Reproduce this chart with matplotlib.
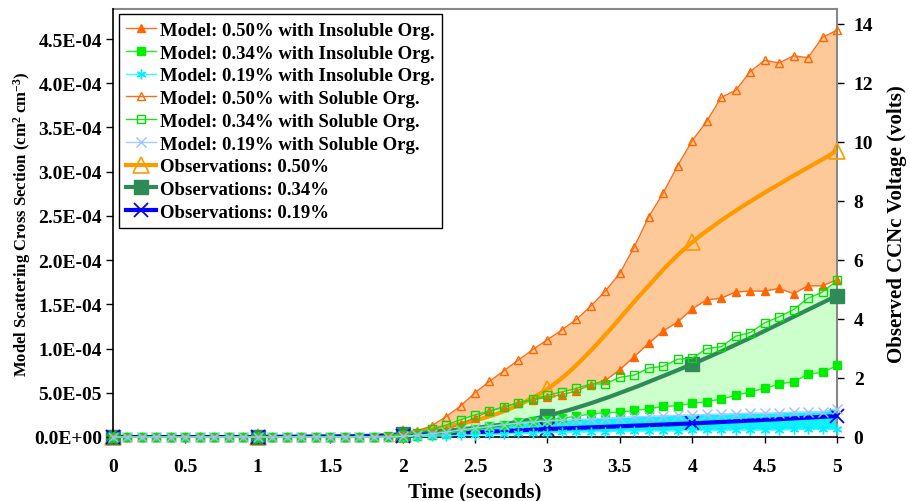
import numpy as np
import matplotlib
matplotlib.use("Agg")
import matplotlib.pyplot as plt
from matplotlib.path import Path
from matplotlib.patches import PathPatch
from matplotlib.lines import Line2D
from matplotlib.ticker import FuncFormatter, MultipleLocator

plt.rcParams["font.family"] = ["Liberation Serif", "DejaVu Serif"]
plt.rcParams["font.weight"] = "bold"
plt.rcParams["mathtext.fontset"] = "custom"
plt.rcParams["mathtext.rm"] = "Liberation Serif:bold"
plt.rcParams["mathtext.default"] = "rm"

# model time axis (seconds)
time = np.round(np.arange(0, 5.01, 0.1), 1)

# model scattering cross section, in units of 1e-5 cm2 cm-3
ins_050 = [0] * 20 + [0.05, 0.1, 0.25, 0.8, 1.5, 2.2, 2.9, 3.4, 3.9, 4.2,
                      4.5, 4.8, 5.2, 5.9, 6.4, 7.6, 9.1, 10.6, 12.0, 13.0,
                      14.5, 15.5, 15.7, 16.4, 16.5, 16.5, 16.8, 16.2, 17.1, 17.1,
                      17.8]
ins_034 = [0] * 20 + [0.05, 0.1, 0.2, 0.35, 0.65, 0.9, 1.2, 1.4, 1.65, 1.8,
                      1.95, 2.1, 2.35, 2.6, 2.75, 2.8, 3.0, 3.2, 3.45, 3.55,
                      3.8, 4.0, 4.3, 4.7, 5.1, 5.5, 6.0, 6.25, 7.1, 7.3,
                      8.1]
ins_019 = [0] * 20 + [0.02, 0.05, 0.1, 0.15, 0.2, 0.25, 0.3, 0.35, 0.4, 0.45,
                      0.5, 0.55, 0.55, 0.6, 0.6, 0.65, 0.65, 0.7, 0.7, 0.7,
                      0.75, 0.75, 0.75, 0.8, 0.8, 0.8, 0.8, 0.85, 0.85, 0.85,
                      0.85]
sol_050 = [0] * 18 + [0.05, 0.15, 0.35, 0.7, 1.25, 2.3, 3.5, 5.0, 6.3, 7.5,
                      8.7, 9.9, 11.0, 12.1, 13.3, 14.8, 16.5, 18.5, 21.5, 24.9,
                      27.6, 30.7, 33.5, 35.7, 38.4, 39.2, 41.3, 42.6, 42.3, 43.1,
                      42.9, 45.2, 46.0]
sol_034 = [0] * 19 + [0.1, 0.25, 0.5, 0.9, 1.35, 1.95, 2.5, 2.95, 3.4, 3.85,
                      4.25, 4.7, 5.1, 5.5, 6.0, 6.0, 6.75, 7.0, 7.8, 8.0,
                      8.8, 8.9, 10.0, 10.2, 11.4, 11.8, 12.9, 13.6, 14.4, 15.7,
                      16.4, 17.7]
sol_019 = [0] * 20 + [0.1, 0.2, 0.35, 0.55, 0.8, 1.0, 1.2, 1.4, 1.55, 1.7,
                      1.8, 1.9, 2.0, 2.05, 2.15, 2.2, 2.3, 2.35, 2.4, 2.45,
                      2.5, 2.55, 2.6, 2.65, 2.7, 2.7, 2.75, 2.8, 2.85, 2.85,
                      3.2]

# observed CCNc voltage (volts), once per second
obs_time = [0, 1, 2, 3, 4, 5]
obs_050 = [0, 0, 0.1, 1.63, 6.6, 9.7]
obs_034 = [0, 0, 0.1, 0.72, 2.47, 4.79]
obs_019 = [0, 0, 0.05, 0.27, 0.46, 0.71]

labels = [
    "Model: 0.50% with Insoluble Org.",
    "Model: 0.34% with Insoluble Org.",
    "Model: 0.19% with Insoluble Org.",
    "Model: 0.50% with Soluble Org.",
    "Model: 0.34% with Soluble Org.",
    "Model: 0.19% with Soluble Org.",
    "Observations: 0.50%",
    "Observations: 0.34%",
    "Observations: 0.19%",
]

SCALE = 1e-5
asterisk = (6, 2, 0)


def smooth_path(x, y):
    # excel style smoothed line: cubic bezier through the points
    pts = list(zip(x, y))
    n = len(pts)
    verts = [pts[0]]
    codes = [Path.MOVETO]
    for i in range(n - 1):
        p0 = pts[max(i - 1, 0)]
        p1 = pts[i]
        p2 = pts[i + 1]
        p3 = pts[min(i + 2, n - 1)]
        c1 = (p1[0] + (p2[0] - p0[0]) / 6, p1[1] + (p2[1] - p0[1]) / 6)
        c2 = (p2[0] - (p3[0] - p1[0]) / 6, p2[1] - (p3[1] - p1[1]) / 6)
        verts += [c1, c2, p2]
        codes += [Path.CURVE4] * 3
    return Path(verts, codes)


fig = plt.figure(figsize=(9.1, 5.02), dpi=100)
ax = fig.add_axes([113 / 910, 64 / 502, 724 / 910, 428 / 502])
ax2 = ax.twinx()
# model markers sit above the observations, fills sit below them
ax.set_zorder(ax2.get_zorder() + 1)
ax.patch.set_visible(False)

ax.set_xlim(0, 5)
ax.set_ylim(0, 4.84e-4)
ax2.set_ylim(0, 14.5)

y_ins50 = np.array(ins_050) * SCALE
y_ins34 = np.array(ins_034) * SCALE
y_ins19 = np.array(ins_019) * SCALE
y_sol50 = np.array(sol_050) * SCALE
y_sol34 = np.array(sol_034) * SCALE
y_sol19 = np.array(sol_019) * SCALE

for lo, hi, col in [(y_ins50, y_sol50, "#FDC998"),
                    (y_ins34, y_sol34, "#CCFFCC"),
                    (y_ins19, y_sol19, "#10F0FF")]:
    ax2.fill_between(time, lo, hi, color=col, lw=0, zorder=1,
                     transform=ax.transData)
ax2.set_ylim(0, 14.5)

styles = [
    dict(color="#FF6A1A", marker="^", ms=6, mfc="#FF6600", mec="#FF6600"),
    dict(color="#22EE22", marker="s", ms=6, mfc="#00EE00", mec="#00EE00"),
    dict(color="#33FFFF", marker=asterisk, ms=7, mfc="#00FFFF", mec="#00EEFF", mew=1.0),
    dict(color="#FF6A1A", marker="^", ms=6, mfc="none", mec="#FF6600", mew=1.0),
    dict(color="#22DD22", marker="s", ms=6, mfc="none", mec="#00DD00", mew=1.0),
    dict(color="#A8CCFF", marker="x", ms=7, mec="#99C2FF", mew=1.0),
]
series = [y_ins50, y_ins34, y_ins19, y_sol50, y_sol34, y_sol19]
handles = []
for ys, st, lab in zip(series, styles, labels[:6]):
    h, = ax.plot(time, ys, lw=1.0, label=lab, clip_on=False, zorder=3, **st)
    handles.append(h)

obs_styles = [
    dict(color="#FF9900", marker="^", ms=11, mfc="none", mec="#FF9900", mew=1.2),
    dict(color="#2E8B57", marker="s", ms=10, mfc="#2E8B57", mec="#2E8B57"),
    dict(color="#0000FF", marker="x", ms=10, mec="#0000FF", mew=1.3),
]
for ys, st, lab in zip([obs_050, obs_034, obs_019], obs_styles, labels[6:]):
    patch = PathPatch(smooth_path(obs_time, ys), fill=False,
                      edgecolor=st["color"], lw=3, zorder=4)
    ax2.add_patch(patch)
    ax2.plot(obs_time, ys, ls="none", clip_on=False, zorder=5, **st)
    handles.append(Line2D([], [], lw=3, **st))

ax.xaxis.set_major_locator(MultipleLocator(0.5))
ax.xaxis.set_major_formatter(FuncFormatter(lambda v, _: f"{v:g}"))
ax.yaxis.set_major_locator(MultipleLocator(5e-5))
ax.yaxis.set_major_formatter(FuncFormatter(lambda v, _: f"{v:.1E}"))
ax2.set_yticks(range(0, 15, 2))

ax.tick_params(axis="x", direction="out", length=4, width=1, pad=11, labelsize=14)
ax.tick_params(axis="y", direction="out", length=5, width=1, pad=3, labelsize=14)
ax2.tick_params(axis="y", direction="out", length=5, width=1, pad=7, labelsize=14)

for sp in ["left", "bottom"]:
    ax.spines[sp].set_color("black")
    ax.spines[sp].set_linewidth(1.2)
for sp in ["top", "right"]:
    ax2.spines[sp].set_color("#888888")
    ax2.spines[sp].set_linewidth(1.5)
ax2.spines["left"].set_visible(False)
ax2.spines["bottom"].set_visible(False)
ax.spines["top"].set_visible(False)
ax.spines["right"].set_visible(False)

ax.set_xlabel("Time (seconds)", fontsize=15, fontweight="bold")
ax.xaxis.set_label_coords(0.5, -0.103)
ax.set_ylabel("Model Scattering Cross Section (cm$^{2}$ cm$^{-3}$)",
              fontsize=12, fontweight="bold")
ax.yaxis.set_label_coords(-0.111, 0.5)
ax2.set_ylabel("Observed CCNc Voltage (volts)", fontsize=15, fontweight="bold")
ax2.yaxis.set_label_coords(1.069, 0.5)

leg = ax.legend(handles=handles, labels=labels, loc="upper left",
                bbox_to_anchor=(0.008, 0.988), borderaxespad=0,
                prop=dict(family="Liberation Serif", weight="bold", size=13.5),
                frameon=True, fancybox=False, framealpha=1, edgecolor="black",
                handlelength=1.6, handletextpad=0.2, labelspacing=0.3,
                borderpad=0.4)
leg.get_frame().set_linewidth(1.0)
leg.set_zorder(10)

fig.savefig("out.png", dpi=100)
